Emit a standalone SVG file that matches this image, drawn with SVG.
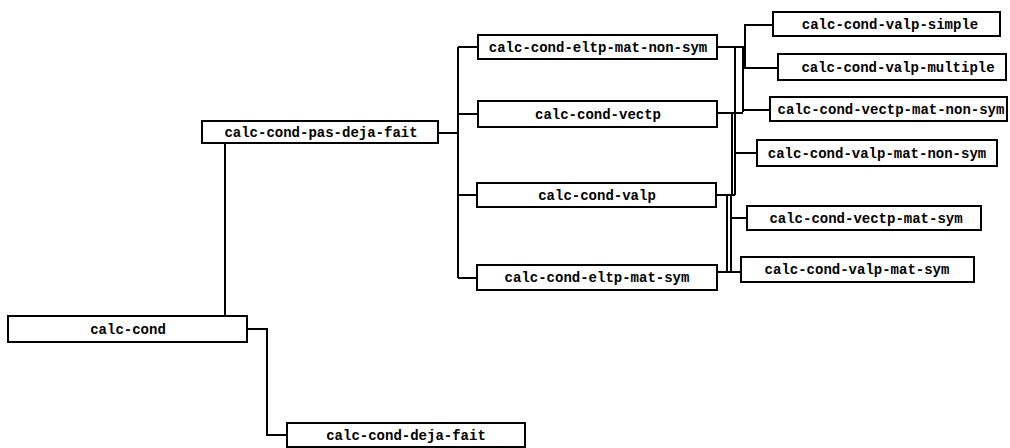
<svg xmlns="http://www.w3.org/2000/svg" width="1010" height="448" viewBox="0 0 1010 448">
  <style>
    .box rect { fill: #ffffff; stroke: #000000; stroke-width: 2; }
    .box text { font-family: "Liberation Mono", "DejaVu Sans Mono", monospace; font-size: 14px; font-weight: bold; fill: #000000; text-anchor: middle; }
    #connectors path { fill: none; stroke: #000000; stroke-width: 2; }
  </style>
  <rect x="0" y="0" width="1010" height="448" fill="#ffffff"/>

  <!-- connectors -->
  <g id="connectors">
    <!-- calc-cond to its two children -->
    <path d="M225 316 V142"/>
    <path d="M247 329 H267 V435 H287"/>
    <!-- calc-cond-pas-deja-fait fan-out -->
    <path d="M438 133 H458"/>
    <path d="M458 47 V278"/>
    <path d="M458 47 H478 M458 114 H478 M458 195 H478 M458 278 H478"/>
    <!-- eltp-mat-non-sym children -->
    <path d="M717 47 H745"/>
    <path d="M773 25 H745 V68 H778"/>
    <!-- vectp children -->
    <path d="M743 47 V112"/>
    <path d="M717 113 H743"/>
    <path d="M743 110 H770"/>
    <!-- valp children -->
    <path d="M735 47 V195"/>
    <path d="M732 113 V195"/>
    <path d="M735 153 H757"/>
    <path d="M716 195 H735"/>
    <!-- eltp-mat-sym children -->
    <path d="M731 195 V272"/>
    <path d="M727 195 V272"/>
    <path d="M731 218 H747"/>
    <path d="M718 272 H741"/>
  </g>

  <!-- nodes -->
  <g id="calc-cond" class="box">
    <rect x="8" y="316" width="239" height="26"/>
    <text x="128" y="333.5">calc-cond</text>
  </g>
  <g id="calc-cond-deja-fait" class="box">
    <rect x="287" y="423" width="238" height="24"/>
    <text x="406" y="439.5">calc-cond-deja-fait</text>
  </g>
  <g id="calc-cond-pas-deja-fait" class="box">
    <rect x="202" y="121" width="236" height="22"/>
    <text x="321" y="136.5">calc-cond-pas-deja-fait</text>
  </g>
  <g id="calc-cond-eltp-mat-non-sym" class="box">
    <rect x="478" y="35" width="239" height="24"/>
    <text x="598" y="51.5">calc-cond-eltp-mat-non-sym</text>
  </g>
  <g id="calc-cond-vectp" class="box">
    <rect x="478" y="101" width="239" height="26"/>
    <text x="598" y="118.5">calc-cond-vectp</text>
  </g>
  <g id="calc-cond-valp" class="box">
    <rect x="477" y="183" width="239" height="24"/>
    <text x="597" y="199.5">calc-cond-valp</text>
  </g>
  <g id="calc-cond-eltp-mat-sym" class="box">
    <rect x="477" y="265" width="240" height="25"/>
    <text x="597" y="282">calc-cond-eltp-mat-sym</text>
  </g>
  <g id="calc-cond-valp-simple" class="box">
    <rect x="773" y="12" width="227" height="24"/>
    <text x="890" y="28.5">calc-cond-valp-simple</text>
  </g>
  <g id="calc-cond-valp-multiple" class="box">
    <rect x="778" y="54" width="228" height="26"/>
    <text x="898" y="71.5">calc-cond-valp-multiple</text>
  </g>
  <g id="calc-cond-vectp-mat-non-sym" class="box">
    <rect x="770" y="97" width="237" height="24"/>
    <text x="891" y="113.5">calc-cond-vectp-mat-non-sym</text>
  </g>
  <g id="calc-cond-valp-mat-non-sym" class="box">
    <rect x="757" y="140" width="240" height="26"/>
    <text x="877" y="157.5">calc-cond-valp-mat-non-sym</text>
  </g>
  <g id="calc-cond-vectp-mat-sym" class="box">
    <rect x="747" y="206" width="234" height="24"/>
    <text x="866" y="222.5">calc-cond-vectp-mat-sym</text>
  </g>
  <g id="calc-cond-valp-mat-sym" class="box">
    <rect x="741" y="257" width="233" height="25"/>
    <text x="857" y="274">calc-cond-valp-mat-sym</text>
  </g>
</svg>
